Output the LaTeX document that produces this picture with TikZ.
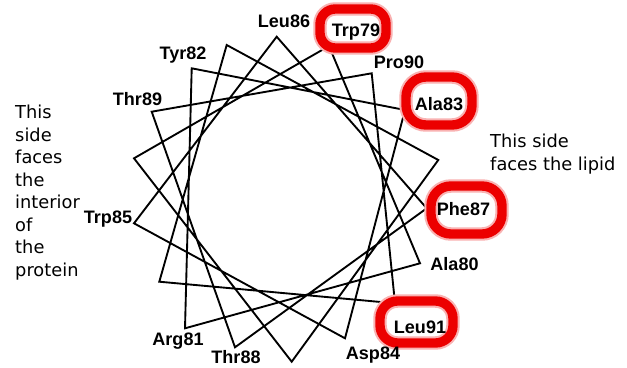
\documentclass[tikz,border=0pt]{standalone}
\usepackage{fontspec}
\usepackage{tikz}
\newfontfamily\resfont{Liberation Sans}
\newfontfamily\notefont{DejaVu Sans}
\definecolor{MarkRed}{RGB}{236,0,0}

\begin{document}
\begin{tikzpicture}[
      x=0.03cm, y=-0.03cm,
      res/.style={anchor=base, inner sep=0pt,
                  font=\resfont\bfseries\fontsize{15.4}{18}\selectfont},
      note/.style={anchor=north west, inner sep=0pt, align=left,
                   font=\notefont\fontsize{15.2}{19.2}\selectfont},
      wheel/.style={line width=1.6pt, line join=miter},
      ring/.style={draw=MarkRed, line width=8pt, rounded corners=#1,
                   preaction={draw=MarkRed!30, line width=11.5pt}}
    ]
    \fill[white] (0,0) rectangle (627,367);
    \useasboundingbox (0,0) rectangle (627,367);

    % residue positions on the wheel, 74 to 91 (92 falls back on 74)
    \foreach \n/\x/\y in {74/159.3/281.7, 75/226.7/45, 76/438.3/160,
        77/291.7/361.7, 78/134/158.3, 79/329/46, 80/420/263.3,
        81/185/328.3, 82/191.7/68.3, 83/405/110, 84/345/338.3,
        85/134/223.3, 86/276.7/36.7, 87/426.7/208.3, 88/235/347.3,
        89/151.7/111.7, 90/371.7/73.3, 91/395/303.3}
      \coordinate (r\n) at (\x,\y);

    \draw[wheel] (r74) \foreach \n in {75,...,91}{ -- (r\n)} -- cycle;

    % lipid facing residues
    \draw[ring=13pt] (320,9) rectangle (386,48);
    \draw[ring=17pt] (406,77) rectangle (472,125);
    \draw[ring=17pt] (431,186) rectangle (502,234);
    \draw[ring=15pt] (380,301) rectangle (453,343);

    \node[res] (leu86) at (284,28) {Leu86};
    \node[res] (trp79) at (356,36.7) {Trp79};
    \node[res] (pro90) at (399,68) {Pro90};
    \node[res] (ala83) at (439,110) {Ala83};
    \node[res] (phe87) at (463.5,215) {Phe87};
    \node[res] (ala80) at (454.5,270) {Ala80};
    \node[res] (leu91) at (420,333) {Leu91};
    \node[res] (asp84) at (373,359) {Asp84};
    \node[res] (thr88) at (236,363) {Thr88};
    \node[res] (arg81) at (178,345) {Arg81};
    \node[res] (trp85) at (108,223) {Trp85};
    \node[res] (thr89) at (137.5,105) {Thr89};
    \node[res] (tyr82) at (183,60) {Tyr82};

    \node[note] (inside) at (15,105)
          {This\\side\\faces\\the\\interior\\of\\the\\protein};
    \node[note] (lipid) at (490,134) {This side\\faces the lipid};
  \end{tikzpicture}
\end{document}
